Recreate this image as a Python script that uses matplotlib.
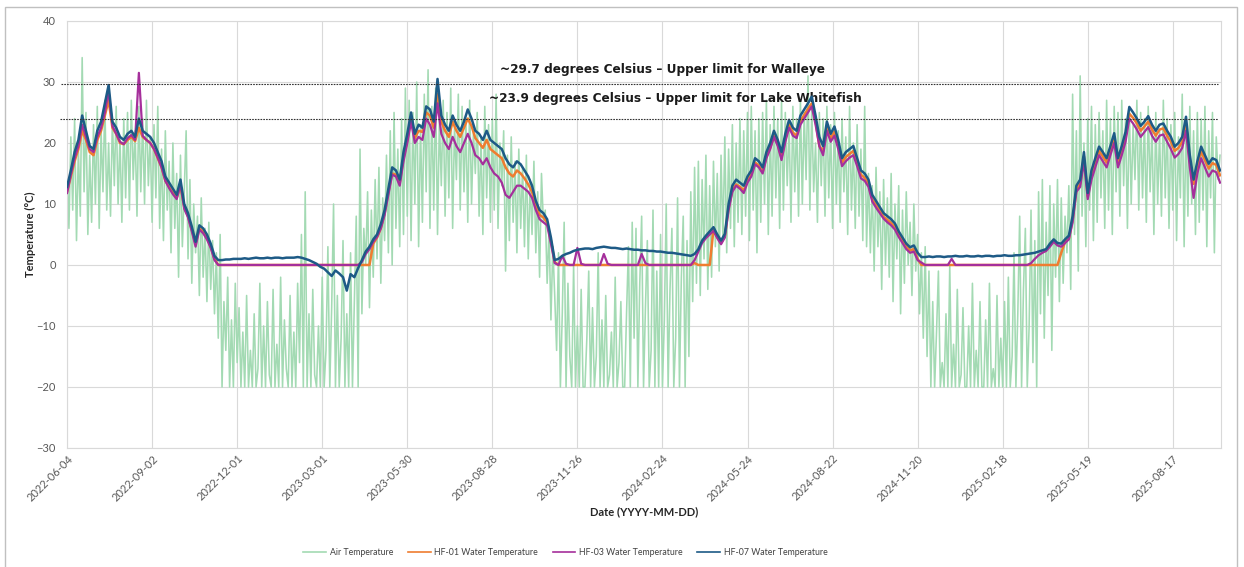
import numpy as np
import pandas as pd
import matplotlib
matplotlib.use("Agg")
import matplotlib.pyplot as plt
import matplotlib.dates as mdates
from matplotlib.lines import Line2D
from matplotlib.patches import Rectangle

plt.rcParams["font.family"] = ["Lato", "DejaVu Sans"]

START = "2022-06-04"

# air temperature, one reading every 2 days (logger floor is -20 C)
air_temp = [
    16, 6, 21, 9, 24, 4, 19, 8, 34, 12, 25, 5, 18, 7, 23,
    10, 26, 6, 22, 12, 27, 9, 20, 8, 24, 13, 26, 10, 21, 7,
    24, 11, 25, 9, 27, 14, 22, 8, 26, 12, 24, 10, 27, 13, 21,
    7, 23, 11, 26, 6, 19, 4, 22, 9, 17, 2, 20, 6, 15, -2,
    18, 3, 12, 22, 1, 14, -3, 10, 2, 8, -5, 11, -2, 6, -6,
    7, -4, 4, -8, 2, -12, 5, -20, -6, -14, -2, -20, -9, -20, -3,
    -16, -7, -20, -11, -20, -5, -20, -14, -20, -8, -20, -17, -3, -20, -10,
    -20, -6, -18, -20, -4, -20, -13, -20, -2, -20, -9, -17, -20, -5, -20,
    -11, -20, -3, -16, 5, -20, 12, -20, -8, -20, -4, -18, -20, -10, -20,
    -2, -20, -14, 3, -20, -7, 10, -20, -5, -20, -12, 4, -20, -8, -20,
    2, -20, -6, 8, -20, 19, -8, 6, 0, 12, -7, 9, -2, 14, 1,
    16, -3, 11, 4, 18, 2, 22, 0, 25, 6, 19, 3, 24, 5, 29,
    8, 27, 4, 25, 10, 30, 3, 23, 7, 28, 12, 32, 6, 26, 9,
    29, 5, 24, 13, 27, 8, 25, 11, 29, 6, 23, 14, 28, 9, 26,
    12, 24, 7, 27, 10, 22, 15, 25, 8, 21, 5, 26, 11, 23, 7,
    24, 9, 28, 6, 20, 13, 22, -1, 18, 4, 21, 7, 17, 2, 19,
    6, 16, 3, 18, 1, 14, 5, 17, 2, 12, -2, 15, 7, 9, -3,
    6, -9, 3, -5, -14, 2, -20, -8, 7, -20, -3, -15, -20, 0, -20,
    -10, -20, -4, -20, -20, -12, -1, -20, -7, -20, -15, 2, -20, -9, -20,
    -5, -20, -18, -11, -20, -2, -20, -16, -6, -20, -20, -8, 3, -20, 7,
    -12, 6, -20, -3, 8, -20, -7, 4, -20, -14, 9, -20, -1, -20, 5,
    -20, -9, 10, -20, -4, 6, -20, -12, 11, -20, -2, 8, -20, 4, -15,
    12, -6, 16, -3, 17, -5, 14, 1, 18, -4, 13, -2, 17, 3, 15,
    -1, 18, 4, 21, 2, 19, 6, 23, 3, 20, 7, 24, 5, 22, 8,
    25, 4, 26, 9, 22, 2, 24, 7, 25, 10, 27, 5, 23, 8, 26,
    11, 24, 6, 27, 9, 25, 13, 23, 7, 26, 12, 24, 8, 27, 10,
    25, 14, 31, 9, 26, 12, 20, 7, 25, 13, 24, 8, 26, 11, 23,
    6, 25, 10, 22, 7, 24, 12, 21, 5, 26, 9, 20, 6, 23, 8,
    19, 4, 26, 3, 15, 2, 13, -1, 16, 3, 12, -4, 14, 0, 11,
    -2, 15, -6, 10, 1, 13, -8, 9, -3, 12, 0, 7, -5, 10, -1,
    5, -8, 2, -12, 3, -15, -1, -20, -6, -20, -11, -1, -20, -16, -20,
    -8, -20, 0, -20, -13, -20, -4, -20, -18, -7, -20, -20, -10, -20, -3,
    -20, -14, -20, -6, -20, -20, -9, -20, -3, -20, -17, -20, -5, -20, -12,
    -20, -6, -20, -2, -20, -15, 2, -20, -8, 8, -20, -4, 6, -20, -10,
    9, -16, 4, -20, 12, -8, 14, -12, 7, -5, 13, -14, 10, -2, 14,
    -6, 11, -3, 8, 2, 13, -4, 28, 5, 22, -1, 31, 8, 20, 3,
    24, 9, 26, 4, 23, 7, 25, 11, 22, 6, 27, 9, 24, 5, 26,
    12, 25, 8, 27, 13, 24, 6, 26, 10, 23, 14, 27, 9, 25, 11,
    24, 7, 26, 12, 23, 5, 25, 10, 22, 8, 27, 11, 24, 6, 23,
    9, 25, 4, 21, 11, 28, 3, 24, 8, 26, 10, 22, 5, 25, 7,
    24, 9, 26, 3, 22, 11, 25, 2, 21, 14, 18,
]

# water loggers, one reading every 4 days
hf07_temp = [
    12.8, 15.5, 18.5, 20.5, 24.5, 22.0, 19.5, 19.0, 22.0, 23.5, 26.5, 29.5, 23.5, 22.5, 21.0,
    20.5, 21.5, 22.0, 21.0, 24.0, 22.0, 21.5, 21.0, 20.0, 18.5, 17.0, 14.5, 13.5, 12.5, 11.5,
    14.0, 10.0, 8.5, 6.3, 3.8, 6.5, 6.0, 5.0, 3.5, 1.5, 0.8, 0.8, 0.9, 0.9, 1.0,
    1.0, 1.0, 1.1, 1.0, 1.1, 1.2, 1.1, 1.1, 1.2, 1.1, 1.2, 1.2, 1.1, 1.2, 1.2,
    1.2, 1.3, 1.2, 1.0, 0.8, 0.5, 0.2, -0.3, -0.6, -1.2, -1.8, -0.9, -1.4, -2.0, -4.2,
    -1.5, -2.0, -0.5, 0.8, 2.2, 3.0, 4.2, 5.0, 6.7, 9.0, 12.5, 16.0, 15.5, 14.0, 18.5,
    21.5, 25.0, 21.5, 23.0, 22.5, 26.0, 25.5, 23.5, 30.5, 24.5, 23.0, 22.0, 24.5, 23.0, 22.0,
    23.5, 25.5, 24.0, 22.0, 21.5, 20.5, 22.0, 20.5, 20.0, 19.5, 19.0, 17.5, 16.5, 16.0, 17.0,
    16.5, 15.5, 14.5, 13.0, 10.5, 9.0, 8.5, 7.5, 4.5, 0.8, 1.0, 1.5, 1.8, 2.0, 2.3,
    2.5, 2.6, 2.7, 2.7, 2.6, 2.8, 2.9, 3.0, 2.9, 2.8, 2.8, 2.7, 2.6, 2.7, 2.6,
    2.5, 2.5, 2.4, 2.4, 2.3, 2.3, 2.2, 2.2, 2.1, 2.0, 2.0, 1.9, 1.8, 1.7, 1.6,
    1.5, 1.8, 2.6, 4.0, 4.8, 5.5, 6.2, 5.0, 4.0, 5.1, 10.0, 13.0, 14.0, 13.5, 13.0,
    14.5, 15.5, 17.5, 17.0, 16.0, 18.5, 20.0, 22.0, 20.5, 18.5, 21.5, 23.8, 22.5, 22.0, 24.5,
    25.5, 26.5, 27.6, 24.5, 21.0, 19.5, 23.5, 21.5, 22.7, 20.5, 17.5, 18.5, 19.0, 19.5, 17.5,
    15.5, 15.0, 14.0, 11.5, 10.5, 9.5, 8.5, 8.0, 7.5, 6.8, 5.5, 4.5, 3.5, 2.9, 3.2,
    2.0, 1.3, 1.3, 1.4, 1.3, 1.4, 1.4, 1.3, 1.4, 1.4, 1.5, 1.4, 1.4, 1.5, 1.4,
    1.4, 1.5, 1.4, 1.5, 1.5, 1.4, 1.5, 1.5, 1.6, 1.5, 1.5, 1.6, 1.6, 1.7, 1.8,
    1.9, 2.0, 2.2, 2.4, 2.6, 3.5, 4.2, 3.6, 3.5, 4.2, 4.8, 8.0, 13.0, 14.0, 18.5,
    11.8, 15.5, 17.5, 19.4, 18.5, 17.5, 19.5, 21.6, 17.5, 19.5, 21.8, 25.9, 25.0, 24.0, 22.8,
    23.5, 24.4, 23.0, 22.0, 23.0, 23.2, 22.0, 21.0, 19.4, 20.0, 21.0, 24.3, 18.0, 14.0, 17.0,
    19.4, 18.0, 16.6, 17.5, 17.2, 15.5,
]

hf01_temp = [
    12.0, 14.5, 17.0, 19.0, 22.0, 20.5, 18.5, 18.0, 20.5, 22.0, 24.5, 27.0, 22.5, 21.5, 20.0,
    19.8, 20.5, 21.0, 20.3, 22.5, 21.0, 20.5, 20.0, 19.0, 17.5, 16.0, 13.8, 12.8, 11.8, 11.0,
    13.0, 9.5, 8.0, 5.8, 3.5, 6.0, 5.5, 4.5, 3.0, 1.0, 0.0, 0.0, 0.0, 0.0, 0.0,
    0.0, 0.0, 0.0, 0.0, 0.0, 0.0, 0.0, 0.0, 0.0, 0.0, 0.0, 0.0, 0.0, 0.0, 0.0,
    0.0, 0.0, 0.0, 0.0, 0.0, 0.0, 0.0, 0.0, 0.0, 0.0, 0.0, 0.0, 0.0, 0.0, 0.0,
    0.0, 0.0, 0.0, 0.0, 0.0, 0.0, 3.5, 4.5, 6.0, 8.5, 12.0, 15.0, 14.8, 13.5, 17.5,
    20.5, 24.0, 20.8, 22.0, 21.8, 25.0, 24.5, 22.5, 28.0, 23.5, 22.0, 21.0, 23.5, 22.0, 21.0,
    22.5, 24.0, 22.8, 20.8, 20.0, 19.2, 20.5, 19.0, 18.5, 18.0, 17.5, 16.0, 15.0, 14.5, 15.5,
    15.0, 14.2, 13.2, 12.0, 9.8, 8.2, 7.8, 7.0, 4.0, 0.5, 0.0, 0.0, 0.0, 0.0, 0.0,
    0.0, 0.0, 0.0, 0.0, 0.0, 0.0, 0.0, 0.0, 0.0, 0.0, 0.0, 0.0, 0.0, 0.0, 0.0,
    0.0, 0.0, 0.0, 0.0, 0.0, 0.0, 0.0, 0.0, 0.0, 0.0, 0.0, 0.0, 0.0, 0.0, 0.0,
    0.0, 0.3, 0.0, 0.0, 0.0, 0.0, 5.8, 4.6, 3.6, 4.7, 9.4, 12.3, 13.2, 12.8, 12.2,
    13.8, 14.8, 16.8, 16.3, 15.2, 17.8, 19.2, 21.2, 19.8, 17.6, 20.6, 23.0, 21.7, 21.2, 23.6,
    24.6, 25.6, 26.5, 23.6, 19.5, 18.6, 22.6, 20.7, 21.9, 19.6, 16.8, 17.7, 18.2, 18.7, 16.8,
    14.8, 14.3, 13.3, 10.8, 9.8, 8.9, 7.9, 7.4, 6.9, 6.2, 5.0, 4.0, 3.0, 2.4, 2.6,
    1.0, 0.0, 0.0, 0.0, 0.0, 0.0, 0.0, 0.0, 0.0, 0.0, 0.0, 0.0, 0.0, 0.0, 0.0,
    0.0, 0.0, 0.0, 0.0, 0.0, 0.0, 0.0, 0.0, 0.0, 0.0, 0.0, 0.0, 0.0, 0.0, 0.0,
    0.0, 0.0, 0.0, 0.0, 0.0, 0.0, 0.0, 0.0, 2.0, 3.8, 4.3, 7.4, 12.3, 13.3, 17.8,
    11.2, 14.8, 16.8, 18.7, 17.8, 16.8, 18.8, 20.9, 16.8, 18.8, 21.0, 24.8, 24.1, 23.2, 22.0,
    22.7, 23.5, 22.2, 21.2, 22.2, 22.4, 21.2, 20.2, 18.7, 19.2, 20.2, 23.0, 17.2, 13.3, 16.2,
    18.6, 17.2, 15.8, 16.7, 16.4, 14.7,
]

hf03_temp = [
    11.8, 14.8, 17.5, 19.5, 23.0, 21.0, 19.0, 18.5, 21.0, 22.5, 25.0, 28.5, 22.8, 21.5, 20.2,
    19.8, 20.8, 21.3, 20.5, 31.5, 21.2, 20.5, 20.0, 19.0, 17.6, 16.0, 13.8, 12.6, 11.6, 10.8,
    13.2, 9.2, 7.8, 5.5, 3.0, 5.8, 5.2, 4.2, 2.8, 0.8, 0.0, 0.0, 0.0, 0.0, 0.0,
    0.0, 0.0, 0.0, 0.0, 0.0, 0.0, 0.0, 0.0, 0.0, 0.0, 0.0, 0.0, 0.0, 0.0, 0.0,
    0.0, 0.0, 0.0, 0.0, 0.0, 0.0, 0.0, 0.0, 0.0, 0.0, 0.0, 0.0, 0.0, 0.0, 0.0,
    0.0, 0.0, 0.0, 0.5, 1.8, 2.6, 3.8, 4.6, 6.0, 8.2, 11.5, 14.8, 14.5, 13.0, 17.0,
    20.0, 23.5, 20.0, 21.0, 20.5, 24.0, 23.0, 21.0, 26.5, 21.5, 20.0, 19.0, 21.0, 19.5, 18.5,
    20.0, 21.5, 20.0, 18.0, 17.5, 16.5, 17.5, 16.0, 15.0, 14.5, 13.5, 11.5, 11.0, 12.0, 13.0,
    13.0, 12.5, 12.0, 11.0, 9.0, 7.5, 7.0, 6.5, 3.5, 0.3, 0.0, 1.5, 0.2, 0.0, 0.0,
    2.8, 0.2, 0.0, 0.0, 0.0, 0.0, 0.0, 1.8, 0.2, 0.0, 0.0, 0.0, 0.0, 0.0, 0.0,
    0.0, 0.0, 1.8, 0.3, 0.0, 0.0, 0.0, 0.0, 0.0, 0.0, 0.0, 0.0, 0.0, 0.0, 0.0,
    0.0, 0.8, 2.2, 3.6, 4.4, 5.0, 5.6, 4.4, 3.4, 4.5, 9.0, 12.0, 13.0, 12.5, 11.8,
    13.5, 14.5, 16.5, 16.0, 15.0, 17.5, 19.0, 21.0, 19.5, 17.2, 20.2, 22.5, 21.2, 20.8, 23.0,
    24.0, 25.0, 26.0, 23.0, 19.5, 18.0, 22.0, 20.2, 21.2, 19.0, 16.2, 17.0, 17.6, 18.0, 16.2,
    14.2, 13.8, 12.8, 10.4, 9.4, 8.5, 7.6, 7.0, 6.5, 5.8, 4.6, 3.6, 2.6, 2.0, 2.2,
    0.8, 0.4, 0.0, 0.0, 0.0, 0.0, 0.0, 0.0, 0.0, 1.0, 0.0, 0.0, 0.0, 0.0, 0.0,
    0.0, 0.0, 0.0, 0.0, 0.0, 0.0, 0.0, 0.0, 0.0, 0.0, 0.0, 0.0, 0.0, 0.0, 0.0,
    0.3, 1.0, 1.6, 2.0, 2.3, 3.0, 3.8, 3.2, 3.0, 3.6, 4.2, 7.0, 12.0, 12.8, 17.0,
    10.8, 14.0, 16.0, 18.0, 17.0, 16.0, 18.0, 20.0, 16.0, 18.0, 20.2, 24.0, 23.2, 22.2, 21.0,
    21.8, 22.6, 21.2, 20.2, 21.2, 21.4, 20.2, 19.0, 17.6, 18.2, 19.2, 22.0, 16.0, 11.0, 15.0,
    17.5, 16.0, 14.5, 15.5, 15.2, 13.5,
]

# species thresholds (degrees C)
walleye_limit = 29.7
whitefish_limit = 23.9

series_names = ["Air Temperature", "HF-01 Water Temperature",
                "HF-03 Water Temperature", "HF-07 Water Temperature"]
series_colors = ["#a3dab3", "#ef7d30", "#a52f9b", "#1d5a86"]

air_dates = pd.date_range(START, periods=len(air_temp), freq="2D")
water_dates = pd.date_range(START, periods=len(hf07_temp), freq="4D")

fig = plt.figure(figsize=(12.44, 5.67), dpi=100)
ax = fig.add_axes([0.0539, 0.2099, 0.9276, 0.7531])

ax.plot(air_dates, air_temp, color=series_colors[0], lw=1.15, zorder=2)
ax.plot(water_dates, hf01_temp, color=series_colors[1], lw=1.8, zorder=3)
ax.plot(water_dates, hf03_temp, color=series_colors[2], lw=1.6, zorder=4)
ax.plot(water_dates, hf07_temp, color=series_colors[3], lw=1.8, zorder=5)

start = pd.Timestamp(START)
ax.set_xlim(start, start + pd.Timedelta(days=1221))
ax.set_ylim(-30, 40)
ax.set_yticks(np.arange(-30, 41, 10))
ticks = pd.date_range(START, "2025-08-17", freq="90D")
ax.set_xticks(ticks)
ax.xaxis.set_major_formatter(mdates.DateFormatter("%Y-%m-%d"))
ax.tick_params(length=0, labelsize=8, labelcolor="#595959")
ax.tick_params(axis="y", pad=8)
plt.setp(ax.get_xticklabels(), rotation=45, ha="right", rotation_mode="anchor")
ax.grid(True, color="#d9d9d9", lw=0.8, zorder=0)
ax.set_axisbelow(True)
for sp in ax.spines.values():
    sp.set_color("#d9d9d9")
    sp.set_linewidth(0.8)

ax.set_ylabel("Temperature (°C)", fontsize=8, fontweight="bold", color="#262626", labelpad=0)
ax.yaxis.set_label_coords(-0.027, 0.5)
ax.set_xlabel("Date (YYYY-MM-DD)", fontsize=8, fontweight="bold", color="#262626", labelpad=2)

# threshold lines and their notes
ytr = ax.get_yaxis_transform()
ax.plot([-0.005, 0.997], [walleye_limit, walleye_limit], transform=ytr, clip_on=False,
        color="#333333", lw=0.8, ls=(0, (1.5, 1)), zorder=6)
ax.plot([-0.006, 0.997], [whitefish_limit, whitefish_limit], transform=ytr, clip_on=False,
        color="#333333", lw=0.8, ls=(0, (1.5, 1)), zorder=6)
ax.text(0.516, walleye_limit + 2.4, "~29.7 degrees Celsius \u2013 Upper limit for Walleye",
        transform=ytr, ha="center", va="center", fontsize=8.7, fontweight="bold",
        color="#1a1a1a", family=["DejaVu Sans"])
ax.text(0.527, whitefish_limit + 3.4, "~23.9 degrees Celsius \u2013 Upper limit for Lake Whitefish",
        transform=ytr, ha="center", va="center", fontsize=8.7, fontweight="bold",
        color="#1a1a1a", family=["DejaVu Sans"])

handles = [Line2D([], [], color=c, lw=1.2) for c in series_colors]
fig.legend(handles, series_names, loc="center", bbox_to_anchor=(0.4545, 0.026), ncol=4,
           frameon=False, handlelength=2.6, handletextpad=0.4, columnspacing=1.7,
           labelcolor="#404040", prop={"family": ["Lato"], "size": 6.3})

# light frame round the whole chart
fig.add_artist(Rectangle((0.004, -0.01), 0.990, 0.998, transform=fig.transFigure,
                         fill=False, edgecolor="#c0c0c0", lw=1.0))

fig.savefig("out.png", dpi=100)
